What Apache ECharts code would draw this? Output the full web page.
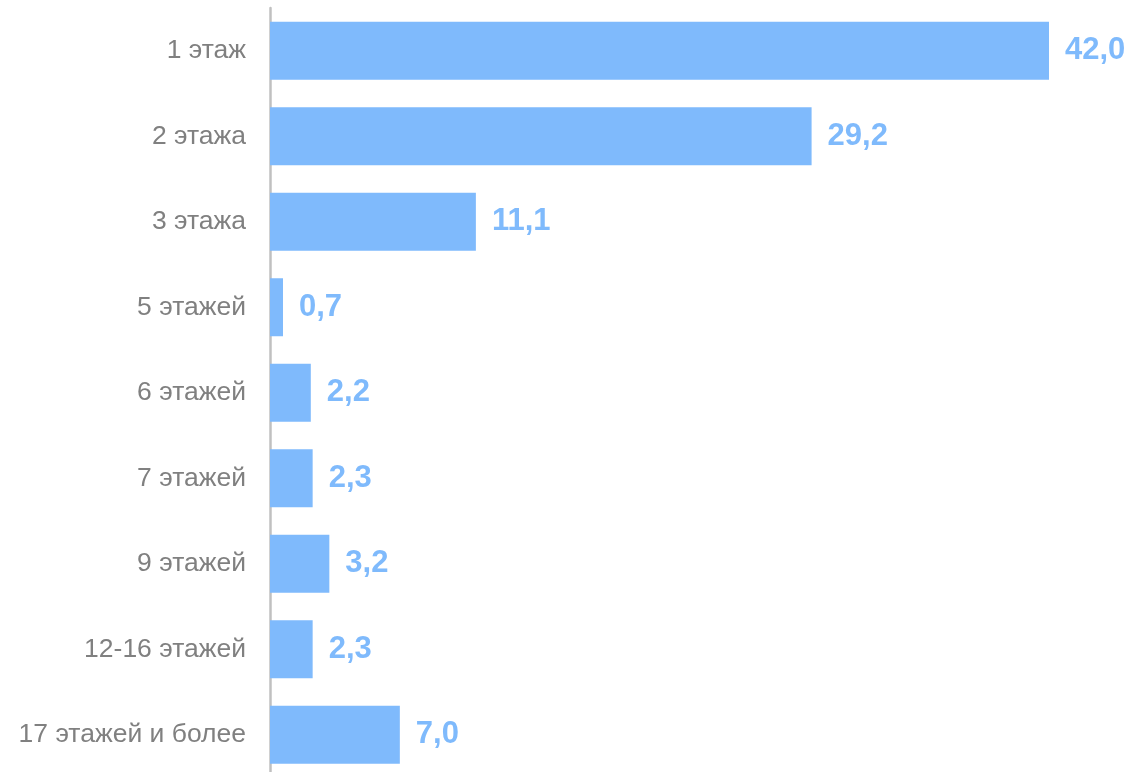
<!DOCTYPE html>
<html><head><meta charset="utf-8">
<script src="https://cdn.jsdelivr.net/npm/echarts@6/dist/echarts.min.js"></script>
<style>html,body{margin:0;padding:0;background:#fff;overflow:hidden}#c{width:1131px;height:780px}</style>
</head><body><div id="c"></div>
<script>
const categories = ['1 этаж','2 этажа','3 этажа','5 этажей','6 этажей','7 этажей','9 этажей','12-16 этажей','17 этажей и более'];
const values = [42.0, 29.2, 11.1, 0.7, 2.2, 2.3, 3.2, 2.3, 7.0];

const chart = echarts.init(document.getElementById('c'));
chart.setOption({
  animation: false,
  grid: {left: 270, width: 779, top: 8, height: 769.5, containLabel: false},
  xAxis: {type: 'value', min: 0, max: 42, show: false},
  yAxis: {
    type: 'category', data: categories, inverse: true,
    axisLine: {show: true, lineStyle: {color: '#c0c0c0', width: 2.5}},
    axisTick: {show: false},
    axisLabel: {color: '#808080', fontSize: 26.5, fontFamily: 'Liberation Sans, Arial', margin: 24}
  },
  series: [{
    type: 'bar', data: values, barWidth: 58,
    itemStyle: {color: '#7fbafc'},
    label: {show: true, position: 'right', distance: 16, color: '#7fbafc', fontSize: 31, fontWeight: 'bold',
      fontFamily: 'Liberation Sans, Arial',
      formatter: p => p.value.toFixed(1).replace('.', ',')}
  }]
});
</script></body></html>
